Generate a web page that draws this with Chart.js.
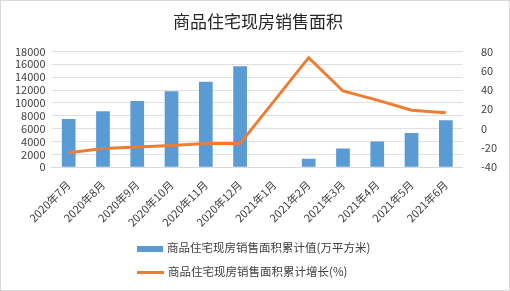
<html>
<head>
    <meta charset="utf-8">
    <title>商品住宅现房销售面积</title>
    <script src="https://cdn.jsdelivr.net/npm/chart.js@4.4.0/dist/chart.umd.min.js"></script>
    <style>
        body { margin: 0; background: #fff; }
        .wrap {
            position: relative;
            width: 508px;
            height: 289px;
            border: 1px solid #d9d9d9;
            font-family: "Noto Sans CJK SC", sans-serif;
        }
        .legend {
            position: absolute;
            left: 136px;
            font-size: 11.5px;
            color: #404040;
        }
        .legend div { height: 24px; line-height: 24px; }
        .legend span.sw { display: inline-block; vertical-align: middle; margin-right: 4px; }
    </style>
</head>
<body>
    <div class="wrap">
        <canvas id="myChart" width="508" height="289"></canvas>
        <div class="legend" style="top: 234px;">
            <div><span class="sw" style="width:26px;height:6px;background:#5b9bd5;"></span>商品住宅现房销售面积累计值(万平方米)</div>
            <div><span class="sw" style="width:27px;height:3px;background:#ed7d31;"></span>商品住宅现房销售面积累计增长(%)</div>
        </div>
    </div>

    <script>
        // 月份
        let labels = ['2020年7月', '2020年8月', '2020年9月', '2020年10月', '2020年11月', '2020年12月',
            '2021年1月', '2021年2月', '2021年3月', '2021年4月', '2021年5月', '2021年6月'];
        // 累计值(万平方米)
        let areaValues = [7500, 8700, 10300, 11800, 13300, 15700, null, 1300, 2900, 4000, 5300, 7300];
        // 累计增长(%)
        let growthValues = [-25, -20.5, -19, -17.5, -15.5, -15.5, null, 73.5, 39, 29.5, 19, 16.5];

        let tickFont = { family: '"Noto Sans CJK SC", sans-serif', size: 11 };

        let ctx = document.getElementById('myChart');
        let myChart = new Chart(ctx, {
            data: {
                labels: labels,
                datasets: [
                    {
                        type: 'line',
                        label: '商品住宅现房销售面积累计增长(%)',
                        data: growthValues,
                        yAxisID: 'y1',
                        borderColor: '#ed7d31',
                        borderWidth: 3,
                        pointRadius: 0,
                        spanGaps: true,
                        tension: 0
                    },
                    {
                        type: 'bar',
                        label: '商品住宅现房销售面积累计值(万平方米)',
                        data: areaValues,
                        yAxisID: 'y',
                        backgroundColor: '#5b9bd5',
                        barPercentage: 0.8,
                        categoryPercentage: 0.5
                    }
                ]
            },
            options: {
                responsive: false,
                animation: false,
                layout: { padding: { left: 8, right: 2, top: 6, bottom: 58 } },
                plugins: {
                    legend: { display: false },
                    tooltip: { enabled: false },
                    title: {
                        display: true,
                        text: '商品住宅现房销售面积',
                        color: '#262626',
                        font: { family: '"Noto Sans CJK SC", sans-serif', size: 17, weight: 'normal' },
                        padding: { top: 4, bottom: 20 }
                    }
                },
                scales: {
                    x: {
                        grid: { display: false },
                        border: { color: '#d9d9d9' },
                        ticks: { color: '#404040', font: tickFont, maxRotation: 45, minRotation: 45, autoSkip: false }
                    },
                    y: {
                        position: 'left',
                        min: 0,
                        max: 18000,
                        grid: { color: '#e0e0e0', drawTicks: false },
                        border: { display: false },
                        ticks: {
                            stepSize: 2000, autoSkip: false, color: '#404040', font: tickFont, padding: 6,
                            callback: v => String(v)
                        }
                    },
                    y1: {
                        position: 'right',
                        min: -40,
                        max: 80,
                        grid: { display: false },
                        border: { display: false },
                        ticks: { stepSize: 20, autoSkip: false, color: '#404040', font: tickFont, padding: 10 }
                    }
                }
            }
        });
    </script>
</body>
</html>
